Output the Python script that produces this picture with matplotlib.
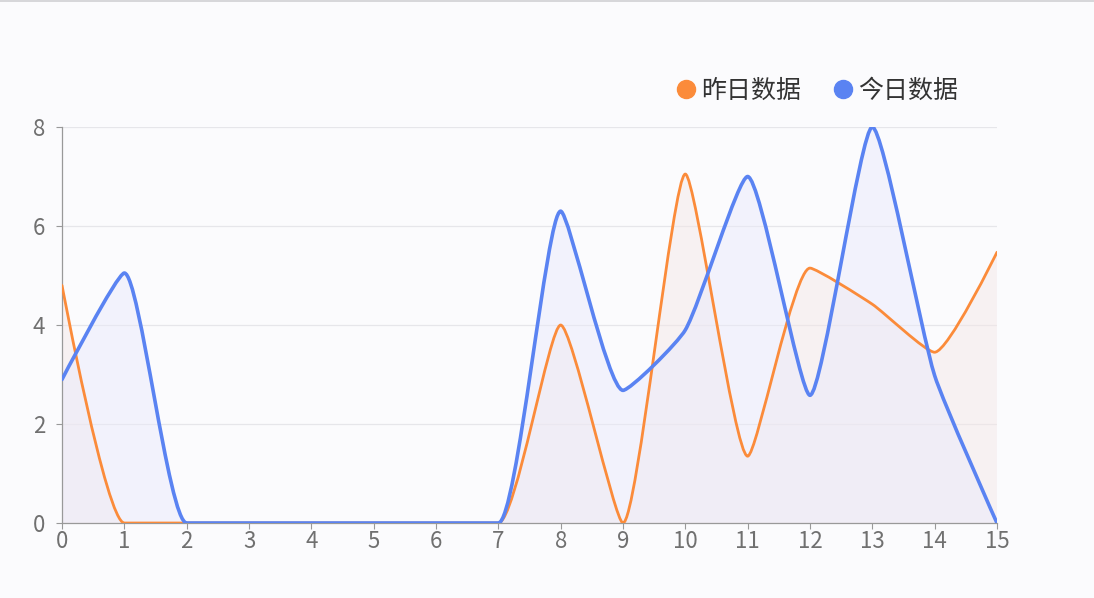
import numpy as np
from matplotlib import pyplot as plt
from matplotlib.path import Path
from matplotlib.patches import PathPatch
from matplotlib.lines import Line2D

plt.rcParams['font.family'] = ['Noto Sans CJK SC', 'DejaVu Sans']

#Data
x_vals = list(range(16))
yesterday = [4.8, 0, 0, 0, 0, 0, 0, 0, 4.0, 0, 7.05, 1.35, 5.15, 4.42, 3.45, 5.47]
today = [2.9, 5.05, 0, 0, 0, 0, 0, 0, 6.3, 2.68, 3.9, 7.0, 2.58, 8.0, 2.98, 0]
names = ['昨日数据', '今日数据']
colors = ['#fb8b3a', '#5a83f2']
fills = ['#f4e6e6', '#e9e9fb']
widths = [2.0, 2.6]

#Pixel size of one unit, used for the smoothing like echarts
SX = 62.33
SY = 49.5


def smooth_path(xs, ys, smooth=0.18):
    #echarts style bezier with clamped control points
    px = [x * SX for x in xs]
    py = [y * SY for y in ys]
    n = len(px)
    cp_in = [None] * n
    cp_out = [None] * n
    for i in range(n):
        x, y = px[i], py[i]
        if i == 0 or i == n - 1:
            cp_in[i] = (x, y)
            cp_out[i] = (x, y)
            continue
        prx, pry = px[i - 1], py[i - 1]
        nx, ny = px[i + 1], py[i + 1]
        vx, vy = nx - prx, ny - pry
        lp = np.hypot(x - prx, y - pry)
        ln = np.hypot(nx - x, ny - y)
        r = ln / (ln + lp)
        ncx = x + vx * smooth * r
        ncy = y + vy * smooth * r
        ncx = min(max(ncx, min(nx, x)), max(nx, x))
        ncy = min(max(ncy, min(ny, y)), max(ny, y))
        vx, vy = ncx - x, ncy - y
        cx = x - vx * lp / ln
        cy = y - vy * lp / ln
        cx = min(max(cx, min(prx, x)), max(prx, x))
        cy = min(max(cy, min(pry, y)), max(pry, y))
        vx, vy = x - cx, y - cy
        ncx = x + vx * ln / lp
        ncy = y + vy * ln / lp
        cp_in[i] = (cx, cy)
        cp_out[i] = (ncx, ncy)
    verts = [(px[0], py[0])]
    codes = [Path.MOVETO]
    for i in range(1, n):
        verts += [cp_out[i - 1], cp_in[i], (px[i], py[i])]
        codes += [Path.CURVE4] * 3
    verts = [(a / SX, b / SY) for a, b in verts]
    return verts, codes


fig = plt.figure(figsize=(10.94, 5.98), dpi=100, facecolor='#fbfbfd')
ax = fig.add_axes([0.0567, 0.1254, 0.8546, 0.6622])
ax.set_facecolor('#fbfbfd')

for ys, fc in zip([yesterday, today], fills):
    verts, codes = smooth_path(x_vals, ys)
    area = verts + [(x_vals[-1], 0), (x_vals[0], 0), verts[0]]
    acodes = codes + [Path.LINETO, Path.LINETO, Path.CLOSEPOLY]
    ax.add_patch(PathPatch(Path(area, acodes), facecolor=fc, edgecolor='none',
                           alpha=0.45, zorder=1))
for ys, c, w in zip([yesterday, today], colors, widths):
    verts, codes = smooth_path(x_vals, ys)
    ax.add_patch(PathPatch(Path(verts, codes), facecolor='none', edgecolor=c,
                           lw=w, zorder=3, capstyle='round', joinstyle='round'))

ax.set_xlim(0, 15)
ax.set_ylim(0, 8)
ax.set_xticks(x_vals)
ax.set_yticks([0, 2, 4, 6, 8])
ax.grid(axis='y', color='#e6e6ea', lw=0.9)
ax.set_axisbelow(True)
for s in ['top', 'right']:
    ax.spines[s].set_visible(False)
ax.spines['left'].set_color('#999999')
ax.spines['bottom'].set_color('#999999')
ax.spines['left'].set_linewidth(0.9)
ax.spines['bottom'].set_linewidth(0.9)
ax.tick_params(axis='both', colors='#999999', labelcolor='#707070',
               labelsize=16, length=4, width=0.8)
ax.tick_params(axis='y', pad=8)
ax.tick_params(axis='x', pad=1)

handles = [Line2D([], [], marker='o', ls='none', ms=13, color=c) for c in colors]
fig.legend(handles, names, loc='center', bbox_to_anchor=(0.747, 0.848), ncol=2,
           frameon=False, fontsize=18, handlelength=0.8, handletextpad=0.2,
           columnspacing=1.3, labelcolor='#333333')

#thin line at the top edge
fig.add_artist(Line2D([0, 1], [0.998, 0.998], color='#d0d0d4', lw=1.2))

plt.savefig('out.png', dpi=100, facecolor=fig.get_facecolor())
